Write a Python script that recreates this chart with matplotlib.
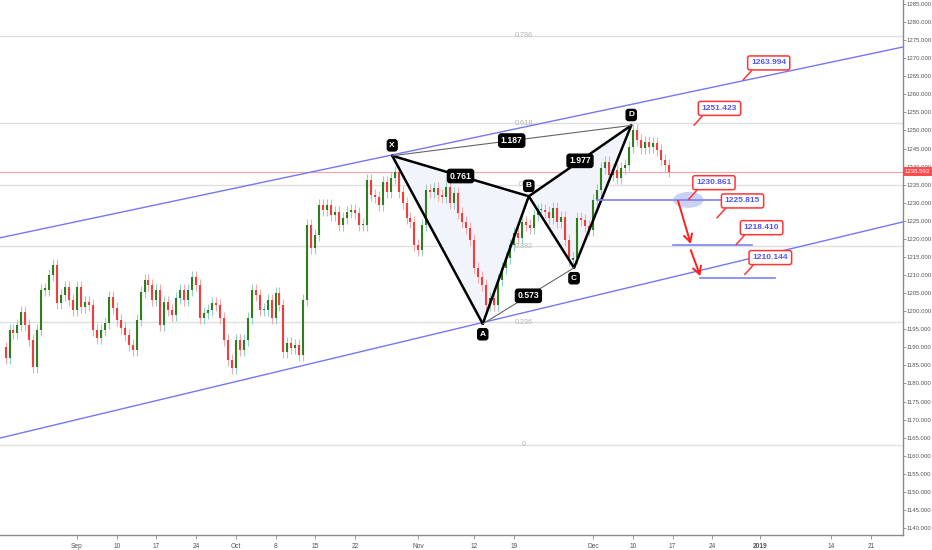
import matplotlib
matplotlib.use('Agg')
import matplotlib.pyplot as plt
import matplotlib.transforms as mtransforms
from matplotlib.patches import Ellipse, Polygon
import numpy as np

plt.rcParams['font.family'] = ['Liberation Sans', 'DejaVu Sans']

# ---------------- data ----------------
# half-day closes of XAU/USD
closes = [
    1187.0, 1194.8, 1194.0, 1196.2, 1199.8, 1196.2, 1192.0, 1184.6, 1194.8, 1205.9,
    1205.9, 1210.0, 1212.8, 1202.3, 1204.5, 1206.7, 1203.1, 1200.3, 1206.7, 1201.2,
    1202.5, 1201.7, 1194.8, 1192.6, 1194.8, 1196.7, 1203.9, 1200.9, 1197.6, 1195.3,
    1193.4, 1190.6, 1189.3, 1197.6, 1205.3, 1208.6, 1207.2, 1203.1, 1205.9, 1196.2,
    1202.5, 1200.3, 1198.9, 1203.6, 1205.9, 1203.1, 1205.9, 1209.5, 1207.2, 1198.1,
    1199.5, 1200.3, 1202.3, 1201.7, 1198.1, 1192.0, 1186.5, 1184.3, 1192.0, 1189.3,
    1192.0, 1198.1, 1205.9, 1204.5, 1200.3, 1200.3, 1203.1, 1198.1, 1205.0, 1201.7,
    1188.7, 1191.2, 1189.8, 1190.6, 1187.9, 1203.1, 1223.8, 1217.5, 1221.1, 1229.4,
    1228.0, 1229.4, 1226.6, 1227.4, 1223.8, 1225.8, 1227.4, 1228.0, 1227.2, 1223.8,
    1223.8, 1236.3, 1232.1, 1231.6, 1229.4, 1235.7, 1233.0, 1236.9, 1238.5, 1233.0,
    1229.9, 1225.8, 1224.7, 1218.3, 1216.9, 1223.8, 1233.5, 1233.0, 1234.1, 1232.1,
    1231.6, 1234.4, 1229.9, 1232.7, 1227.2, 1224.7, 1223.0, 1219.7, 1211.9, 1209.5,
    1207.2, 1201.7, 1203.6, 1201.7, 1208.6, 1211.9, 1214.7, 1218.3, 1221.6, 1220.3,
    1224.7, 1223.8, 1223.0, 1226.6, 1228.0, 1228.0, 1227.4, 1225.8, 1228.5, 1224.7,
    1226.1, 1219.7, 1214.2, 1214.7, 1225.8, 1225.2, 1223.6, 1222.5, 1230.8, 1233.5,
    1239.6, 1241.3, 1237.7, 1239.1, 1236.9, 1239.6, 1240.4, 1245.4, 1250.1, 1247.4,
    1245.2, 1246.8, 1245.4, 1246.5, 1244.6, 1241.8, 1240.4, 1238.593,
]
first_open = 1190.0
x_start = -9.0          # trading days from Sep 3
x_step = 0.5

tick_days = [0, 5, 10, 15, 20, 25, 30, 35, 43, 50, 55, 65, 70, 75, 80, 86, 95, 100]
tick_labels = ['Sep', '10', '17', '24', 'Oct', '8', '15', '22', 'Nov', '12', '19',
               'Dec', '10', '17', '24', '2019', '14', '21']
price_ticks = list(range(1140, 1286, 5))
last_price = 1238.593

fib_levels = [0, 0.236, 0.382, 0.5, 0.618, 0.786]
fib_low, fib_high = 1163.0, 1307.0
fib_label_day = 56.3

upper_channel_days = [-9.70, 104.03]
upper_channel_prices = [1220.3, 1273.1]
lower_channel_days = [-9.70, 104.03]
lower_channel_prices = [1164.9, 1224.7]

pattern_names = ['X', 'A', 'B', 'C', 'D']
pattern_days = [39.7, 51.1, 56.9, 62.6, 69.8]
pattern_prices = [1243.0, 1196.5, 1231.8, 1212.0, 1251.4]
ratio_pairs = [('X', 'B', '0.761'), ('X', 'D', '1.187'), ('B', 'D', '1.977'), ('A', 'C', '0.573')]

callout_values = [1263.994, 1251.423, 1230.861, 1225.815, 1218.410, 1210.144]
callout_days = [83.9, 77.7, 77.0, 80.6, 83.0, 84.1]

target_levels = [1230.861, 1218.41, 1209.3]
target_starts = [65.5, 75.1, 78.5]
target_ends = [81.2, 85.0, 87.9]

arrow_starts = [(75.7, 1230.5), (77.3, 1216.9)]
arrow_ends = [(77.3, 1218.6), (78.5, 1209.7)]
zone_center = (77.0, 1230.8)

# ---------------- figure ----------------
fig = plt.figure(figsize=(9.32, 5.5), dpi=100)
ax = fig.add_axes([0, 15 / 550, 903 / 932, 535 / 550])
ax.set_xlim(-9.70, 104.03)
ax.set_ylim(1138.07, 1286.1)

# fib levels
for lv in fib_levels:
    p = fib_low + lv * (fib_high - fib_low)
    ax.axhline(p, color='#e0e0e0', lw=1.0, zorder=1)
    ax.text(fib_label_day, p, f'{lv:g}', color='#b5b5b5', fontsize=5.2,
            ha='center', va='center', zorder=2)

# current price line
ax.axhline(last_price, color='#f5a3a3', lw=0.8, zorder=1)

# channel
ax.plot(upper_channel_days, upper_channel_prices, color='#7676f6', lw=1.0, zorder=3)
ax.plot(lower_channel_days, lower_channel_prices, color='#7676f6', lw=1.0, zorder=3)

# pattern fills
pt = {n: (d, p) for n, d, p in zip(pattern_names, pattern_days, pattern_prices)}
ax.add_patch(Polygon([pt['X'], pt['A'], pt['B']], closed=True, fc='#f2f4fc', ec='none', zorder=1.5))
ax.add_patch(Polygon([pt['B'], pt['C'], pt['D']], closed=True, fc='#f2f4fc', ec='none', zorder=1.5))

# candles
opens = [first_open] + closes[:-1]
for i, (o, c) in enumerate(zip(opens, closes)):
    x = x_start + i * x_step
    up = c >= o
    lo, hi = min(o, c), max(o, c)
    if hi - lo < 0.4:
        hi = lo + 0.4
    wick_col = '#8fd2c8' if up else '#f6a9a9'
    body_col = '#2f7d1e' if up else '#f03e3e'
    ax.vlines(x, lo - 1.6, hi + 1.6, color=wick_col, lw=0.8, zorder=4)
    ax.vlines(x, lo, hi, color=body_col, lw=1.5, zorder=5)

# pattern lines
thick = [('X', 'A'), ('A', 'B'), ('B', 'C'), ('C', 'D'), ('X', 'B'), ('B', 'D')]
thin = [('X', 'D'), ('A', 'C')]
for a, b in thick:
    ax.plot([pt[a][0], pt[b][0]], [pt[a][1], pt[b][1]], color='black', lw=1.8,
            solid_capstyle='round', zorder=6)
for a, b in thin:
    ax.plot([pt[a][0], pt[b][0]], [pt[a][1], pt[b][1]], color='#666666', lw=0.8, zorder=6)

for a, b, t in ratio_pairs:
    mx = (pt[a][0] + pt[b][0]) / 2
    my = (pt[a][1] + pt[b][1]) / 2
    ax.text(mx, my, t, color='white', fontsize=6.2, fontweight='bold', ha='center', va='center',
            bbox=dict(boxstyle='round,pad=0.25,rounding_size=0.3', fc='black', ec='black'), zorder=8)

label_side = {'X': 1, 'A': -1, 'B': 1, 'C': -1, 'D': 1}
for n in pattern_names:
    ax.annotate(n, xy=pt[n], xytext=(0, 7.5 * label_side[n]), textcoords='offset points',
                color='white', fontsize=6, fontweight='bold', ha='center', va='center',
                bbox=dict(boxstyle='round,pad=0.25,rounding_size=0.3', fc='black', ec='black'), zorder=8)

# target levels
for lv, s, e in zip(target_levels, target_starts, target_ends):
    ax.plot([s, e], [lv, lv], color='#7c84ee', lw=1.2, zorder=6)

ax.add_patch(Ellipse(zone_center, 3.8, 4.4, fc='#c6cbf4', ec='none', alpha=0.9, zorder=5))

for s, e in zip(arrow_starts, arrow_ends):
    ax.annotate('', xy=e, xytext=s,
                arrowprops=dict(arrowstyle='->,head_length=0.55,head_width=0.3',
                                color='#ff1e1e', lw=1.4, shrinkA=0, shrinkB=0), zorder=7)

# callouts
for v, d in zip(callout_values, callout_days):
    ax.annotate(f'{v:.3f}', xy=(d, v), xytext=(18.4, 12.2), textcoords='offset points',
                color='#5656f0', fontsize=6.0, fontweight='bold', ha='center', va='center',
                bbox=dict(boxstyle='round,pad=0.42,rounding_size=0.25', fc='white', ec='#ff3535', lw=1.1),
                arrowprops=dict(arrowstyle='-', color='#ff3535', lw=1.1, shrinkA=0, shrinkB=0,
                                relpos=(0.12, 0.0)), zorder=9)

# axes styling
for s in ['top', 'left']:
    ax.spines[s].set_visible(False)
for s in ['right', 'bottom']:
    ax.spines[s].set_color('#8a8a8a')
    ax.spines[s].set_linewidth(1.0)

ax.yaxis.tick_right()
ax.set_yticks(price_ticks)
ax.set_yticklabels([f'{p:.3f}' for p in price_ticks])
ax.tick_params(axis='y', length=2, width=0.6, color='#8a8a8a', labelsize=4.3,
               labelcolor='#555555', pad=0.8)
ax.set_xticks(tick_days)
ax.set_xticklabels(tick_labels)
ax.tick_params(axis='x', length=3, width=0.6, color='#8a8a8a', labelsize=4.8,
               labelcolor='#555555', pad=2.5)
for lbl in ax.get_xticklabels():
    if lbl.get_text() == '2019':
        lbl.set_fontweight('bold')

trans = mtransforms.blended_transform_factory(ax.transAxes, ax.transData)
ax.text(1.002, last_price, f'{last_price:.3f}', transform=trans, color='white', fontsize=4.3,
        ha='left', va='center', clip_on=False,
        bbox=dict(boxstyle='square,pad=0.35', fc='#ff4d4d', ec='none'), zorder=10)

fig.savefig('out.png', dpi=100)
